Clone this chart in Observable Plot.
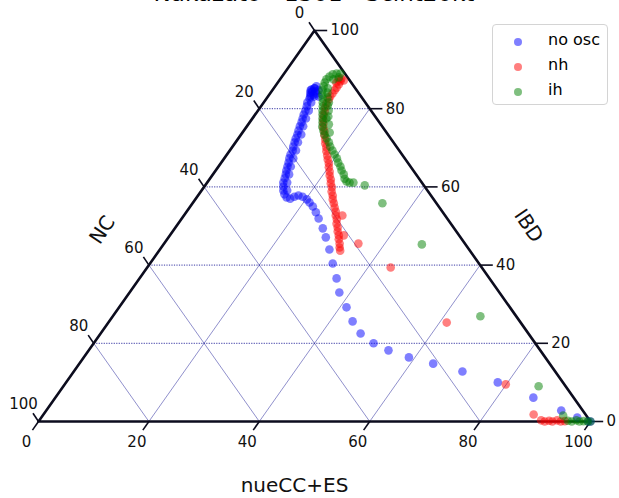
<!DOCTYPE html>
<html><head><meta charset="utf-8">
<script src="https://cdn.jsdelivr.net/npm/d3@7"></script>
<script src="https://cdn.jsdelivr.net/npm/@observablehq/plot@0.6"></script>
<style>
body{margin:0;background:#fff;font-family:"DejaVu Sans",sans-serif;}
#wrap{position:relative;width:619px;height:498px;overflow:hidden;}
#chart{position:absolute;left:0;top:0;}
#title{position:absolute;left:0;width:628px;text-align:center;top:-20px;font-size:23px;color:#000;white-space:nowrap;}
#legend{position:absolute;left:492px;top:24px;width:116px;height:81px;border:1px solid #d4d4d4;border-radius:4px;background:rgba(255,255,255,0.85);box-sizing:border-box;}
.li{position:absolute;left:0;height:20px;font-size:16px;line-height:20px;color:#000;}
.li .dot{position:absolute;left:21px;top:6px;width:8px;height:8px;border-radius:50%;}
.li span{position:absolute;left:55px;top:-2px;white-space:nowrap;}
</style></head><body>
<div id="wrap"><div id="chart"></div><div id="title">Nakazato - 1301 - Scint20kt</div><div id="legend"></div></div>
<script>
// series names and colours
const seriesNames = ["no osc", "nh", "ih"];
const seriesColors = ["blue", "red", "green"];
const axisNames = ["nueCC+ES", "IBD", "NC"];
const tickValues = [0, 20, 40, 60, 80, 100];
const gridLevels = [20, 40, 60, 80];

// no osc: [nueCC+ES %, IBD %]  (NC = 100 - both)
const noOscNue = [7.5,7.4,7.4,7.5,7.0,8.0,8.0,7.2,6.95,8.4,8.4,7.7,9.2,7.4,8.4,
  7.8,7.9,8.3,8.6,8.8,9.1,9.4,9.6,9.9,10.2,10.4,10.7,11.0,11.4,11.5,11.8,12.2,12.5,12.8,13.2,13.5,13.8,14.3,14.8,15.5,16.3,17.1,17.6,18.2,19.1,20.2,21.1,
  8.6,9.2,9.7,10.2,10.9,11.3,12.0,12.5,13.1,13.8,14.5,15.5,
  22.2,23.5,24.8,26.8,28.5,30.7,33.1,35.7,38.0,41.2,44.1,47.1,50.7,54.3,58.9,64.1,70.4,78.2,86.6,93.3,97.1,99.6,100];
const noOscIbd = [85.7,85.2,84.4,83.6,84.9,84.4,83.6,84.1,84.7,84.7,83.1,83.1,83.1,85.2,83.9,
  82.6,81.6,80.6,79.5,78.5,77.5,76.5,75.5,74.4,73.4,72.4,71.4,70.3,69.3,68.3,67.3,66.2,65.2,64.2,63.2,62.2,61.1,60.1,59.1,58.1,57.3,57.0,57.5,57.8,57.5,56.8,56.0,
  81.6,79.5,77.5,75.5,73.4,71.4,69.3,67.3,65.2,63.2,61.1,59.1,
  55.0,53.5,51.9,49.4,47.1,44.0,40.4,36.6,33.0,29.2,25.6,22.5,20.0,18.2,16.4,14.8,12.8,10.0,6.1,2.8,1.0,0,0];

// nh
const nhNue = [11.0,11.7,10.6,11.2,10.6,11.3,11.3,11.3,11.3,11.3,11.4,11.5,11.8,12.2,12.5,13.0,13.5,14.0,14.7,15.2,15.9,16.4,17.1,17.6,18.3,18.9,19.6,20.1,20.8,21.3,22.0,22.5,23.2,23.7,24.4,24.9,25.6,26.3,27.0,27.5,28.2,28.7,29.4,29.9,30.6,31.1,31.8,32.3,32.8,
  28.7,31.5,35.2,44.1,61.3,79.9,88.8,90.9,91.7,92.4,93.1,93.8,94.6,95.3];
const nhIbd = [87.7,87.2,87.5,87.0,86.7,86.2,85.4,84.7,83.9,83.1,82.4,81.3,80.3,79.3,78.3,77.2,76.2,75.2,74.2,73.2,72.1,71.1,70.1,69.1,68.0,67.0,66.0,65.0,63.9,62.9,61.9,60.9,59.9,58.8,57.8,56.8,55.8,54.7,53.7,52.7,51.7,50.6,49.6,48.6,47.6,46.6,45.5,44.5,43.7,
  52.7,47.6,45.5,39.4,25.3,9.5,1.8,0.3,0,0.2,0,0.3,0,0.1];

// ih
const ihNue = [10.2,10.4,9.5,9.7,8.9,8.6,8.4,8.5,8.8,9.1,10.3,9.6,10.2,10.7,12.0,11.2,11.7,12.2,12.7,13.4,13.2,13.7,14.4,15.1,16.0,16.9,17.7,18.6,19.5,20.4,21.2,22.1,22.8,23.7,24.4,25.1,25.8,
  9.8,10.9,11.8,12.8,13.5,14.6,15.8,
  26.5,28.9,34.4,46.8,66.6,86.1,94.3,95.8,96.6,97.3,98.0,98.7,99.5,100];
const ihIbd = [89.0,88.0,89.0,87.5,88.8,88.2,87.5,86.7,85.7,84.7,84.1,83.6,82.6,81.6,80.8,80.6,79.5,78.5,77.5,77.5,76.5,75.4,74.4,73.4,72.4,71.4,70.3,69.3,68.3,67.3,66.2,65.2,64.2,63.2,62.1,61.4,61.1,
  85.2,82.9,81.6,79.5,78.0,76.0,73.9,
  61.1,60.4,55.8,45.3,26.9,9.0,1.5,0.2,0,0.3,0,0.1,0,0];

const seriesNue = [noOscNue, nhNue, ihNue];
const seriesIbd = [noOscIbd, nhIbd, ihIbd];

const points = [];
seriesNames.forEach((name, s) => {
  seriesNue[s].forEach((n, i) => {
    const ibd = seriesIbd[s][i];
    points.push({series: name, nue: n, ibd: ibd, nc: 100 - n - ibd});
  });
});
// ternary -> cartesian (in 0..100 units)
const tx = d => d.nue + d.ibd / 2;
const ty = d => d.ibd;

const corners = [{nue:0, ibd:0}, {nue:100, ibd:0}, {nue:0, ibd:100}, {nue:0, ibd:0}];
const gridColor = "#23239a";
const edge = "#0c0c1e";

const chart = Plot.plot({
  width: 619, height: 498,
  marginLeft: 38, marginRight: 29, marginTop: 30, marginBottom: 77,
  x: {domain: [0, 100], axis: null},
  y: {domain: [0, 100], axis: null},
  color: {domain: seriesNames, range: seriesColors},
  style: {fontFamily: "DejaVu Sans", fontSize: "15px", color: "#000", background: "transparent", overflow: "visible"},
  marks: [
    // constant IBD (horizontal) grid
    Plot.link(gridLevels, {x1: v => v / 2, y1: v => v, x2: v => 100 - v / 2, y2: v => v,
      stroke: gridColor, strokeWidth: 0.9, strokeDasharray: "1.2,1.3"}),
    // constant NC grid
    Plot.link(gridLevels, {x1: v => v / 2, y1: v => v, x2: v => v, y2: 0,
      stroke: gridColor, strokeWidth: 0.6, strokeOpacity: 0.85}),
    // constant nueCC+ES grid
    Plot.link(gridLevels, {x1: v => v, y1: 0, x2: v => v + (100 - v) / 2, y2: v => 100 - v,
      stroke: gridColor, strokeWidth: 0.6, strokeOpacity: 0.85}),
    // triangle
    Plot.line(corners, {x: tx, y: ty, stroke: edge, strokeWidth: 2.6, strokeLinejoin: "miter"}),
    // ticks: bottom (nueCC+ES)
    Plot.link(tickValues, {x1: v => v, y1: 0, x2: v => v - 1.1, y2: -2.2, stroke: edge, strokeWidth: 1.6}),
    // ticks: left (NC)
    Plot.link(tickValues, {x1: v => (100 - v) / 2, y1: v => 100 - v, x2: v => (100 - v) / 2 - 1.0, y2: v => 100 - v + 2.1, stroke: edge, strokeWidth: 1.6}),
    // ticks: right (IBD)
    Plot.link(tickValues, {x1: v => 100 - v / 2, y1: v => v, x2: v => 100 - v / 2 + 2.3, y2: v => v, stroke: edge, strokeWidth: 1.6}),
    // tick labels
    Plot.text(tickValues, {x: v => v, y: 0, text: v => String(v), dx: -12, dy: 21, fontSize: 15, fill: "#111"}),
    Plot.text(tickValues, {x: v => (100 - v) / 2, y: v => 100 - v, text: v => String(v), dx: -15, dy: -17, fontSize: 15, fill: "#111"}),
    Plot.text(tickValues, {x: v => 100 - v / 2, y: v => v, text: v => String(v), dx: 16, dy: 0, textAnchor: "start", fontSize: 15, fill: "#111"}),
    // axis titles
    Plot.text([axisNames[0]], {x: 50, y: 0, text: d => d, dx: -20, dy: 64, fontSize: 20, fill: "#111"}),
    Plot.text([axisNames[1]], {x: 75, y: 50, text: d => d, dx: 76, dy: 0, rotate: 56, fontSize: 20, fill: "#111"}),
    Plot.text([axisNames[2]], {x: 25, y: 50, text: d => d, dx: -74, dy: 4, rotate: -56, fontSize: 20, fill: "#111"}),
    // data
    Plot.dot(points, {x: tx, y: ty, fill: "series", fillOpacity: 0.5, r: 4.3, stroke: "none"})
  ]
});
document.getElementById("chart").appendChild(chart);

// legend
const lg = document.getElementById("legend");
seriesNames.forEach((name, i) => {
  const row = document.createElement("div");
  row.className = "li";
  row.style.top = (7 + i * 25) + "px";
  const dot = document.createElement("div");
  dot.className = "dot";
  dot.style.background = seriesColors[i];
  dot.style.opacity = 0.5;
  const label = document.createElement("span");
  label.textContent = name;
  row.appendChild(dot); row.appendChild(label);
  lg.appendChild(row);
});
</script>
</body></html>
